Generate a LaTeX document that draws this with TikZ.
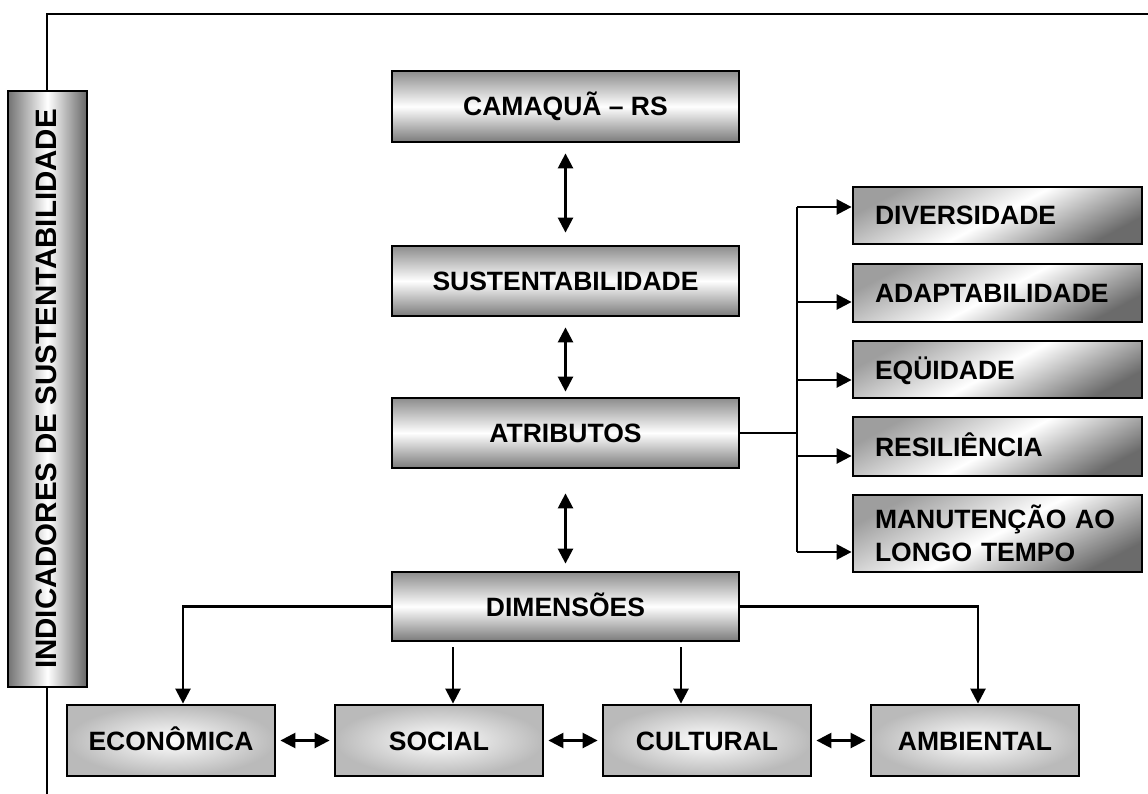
\documentclass[tikz,border=0pt]{standalone}
\usepackage{fontspec}
\setmainfont{Liberation Sans}
\usetikzlibrary{arrows.meta}
\begin{document}
\begin{tikzpicture}[x=1pt,y=-1pt,
  conn/.style={line width=2.5pt},
  arr/.style={conn,-{Triangle[length=15pt,width=15pt]}},
  darr/.style={conn,{Triangle[length=15pt,width=15pt]}-{Triangle[length=15pt,width=15pt]}},
  boxfont/.style={font=\fontsize{26.5}{33}\selectfont\bfseries},
  caps/.style={text height=19pt,text depth=0pt},
  mainbox/.style={draw=black,line width=2.8pt,top color=black!45,bottom color=black!52,middle color=white,
    minimum width=347pt,inner sep=0pt,boxfont,caps},
  sidebox/.style={draw=black,line width=2.8pt,top color=black!38,bottom color=black!58,middle color=white,
    shading angle=28,inner xsep=22pt,inner ysep=0pt,text width=245pt,align=left,boxfont},
  dimbox/.style={draw=black,line width=2.8pt,inner color=white,outer color=black!27,
    minimum width=208pt,minimum height=71pt,inner sep=0pt,boxfont,caps},
  vbox/.style={draw=black,line width=2.8pt,left color=black!55,right color=black!60,middle color=white,
    minimum width=79pt,minimum height=596pt,inner sep=0pt}
]
\useasboundingbox (0,0) rectangle (1148,794);

% left vertical label box and frame
\node[vbox] (ind) at (47.5,389) {};
\node[rotate=90,font=\fontsize{29.5}{33}\selectfont\bfseries,caps] (indt) at (47,389) {INDICADORES DE SUSTENTABILIDADE};
\coordinate (ftl) at (47,14);
\coordinate (ftr) at (1148,14);
\coordinate (fbot) at (47,794);
\draw[conn] (ind.north -| ftl) -- (ftl) -- (ftr);
\draw[conn] (ind.south -| fbot) -- (fbot);

% main column
\node[mainbox,minimum height=71pt] (cam) at (565.5,106.5) {CAMAQU\~A -- RS};
\node[mainbox,minimum height=70pt] (sus) at (565.5,281) {SUSTENTABILIDADE};
\node[mainbox,minimum height=70pt] (atr) at (565.5,433) {ATRIBUTOS};
\node[mainbox,minimum height=69pt] (dim) at (565.5,606.5) {DIMENSÕES};

\draw[darr] ([yshift=-10pt]cam.south) -- ([yshift=12pt]sus.north);
\draw[darr] ([yshift=-10pt]sus.south) -- ([yshift=5pt]atr.north);
\draw[darr] ([yshift=-24pt]atr.south) -- ([yshift=7pt]dim.north);

% attribute boxes
\node[sidebox,caps,minimum height=57pt] (div) at (997.5,215.5) {DIVERSIDADE};
\node[sidebox,caps,minimum height=58pt] (ada) at (997.5,293) {ADAPTABILIDADE};
\node[sidebox,caps,minimum height=57pt] (equ) at (997.5,369.5) {EQÜIDADE};
\node[sidebox,caps,minimum height=59pt] (res) at (997.5,446.5) {RESILIÊNCIA};
\node[sidebox,minimum height=77pt] (man) at (997.5,533.5) {MANUTENÇÃO AO\\LONGO TEMPO};

\coordinate (b1) at (797,207);
\coordinate (b2) at (797,302);
\coordinate (b3) at (797,380);
\coordinate (b4) at (797,456);
\coordinate (b5) at (797,552);
\draw[conn] (atr.east) -- (atr.east -| b1);
\draw[conn] (b1) -- (b5);
\draw[arr] (b1) -- (b1 -| div.west);
\draw[arr] (b2) -- (b2 -| ada.west);
\draw[arr] (b3) -- (b3 -| equ.west);
\draw[arr] (b4) -- (b4 -| res.west);
\draw[arr] (b5) -- (b5 -| man.west);

% dimension boxes
\node[dimbox] (eco) at (171,740.5) {ECONÔMICA};
\node[dimbox] (soc) at (439,740.5) {SOCIAL};
\node[dimbox] (cul) at (707,740.5) {CULTURAL};
\node[dimbox] (amb) at (975,740.5) {AMBIENTAL};

\draw[arr] (dim.west) -| ([xshift=12pt]eco.north);
\draw[arr] (dim.east) -| ([xshift=3pt]amb.north);
\draw[arr] (dim.south -| 453,0) ++(0,5) -- (soc.north -| 453,0);
\draw[arr] (dim.south -| 681,0) ++(0,5) -- (cul.north -| 681,0);

\draw[darr] ([xshift=4pt]eco.east) -- ([xshift=-4pt]soc.west);
\draw[darr] ([xshift=4pt]soc.east) -- ([xshift=-4pt]cul.west);
\draw[darr] ([xshift=4pt]cul.east) -- ([xshift=-4pt]amb.west);
\end{tikzpicture}
\end{document}
